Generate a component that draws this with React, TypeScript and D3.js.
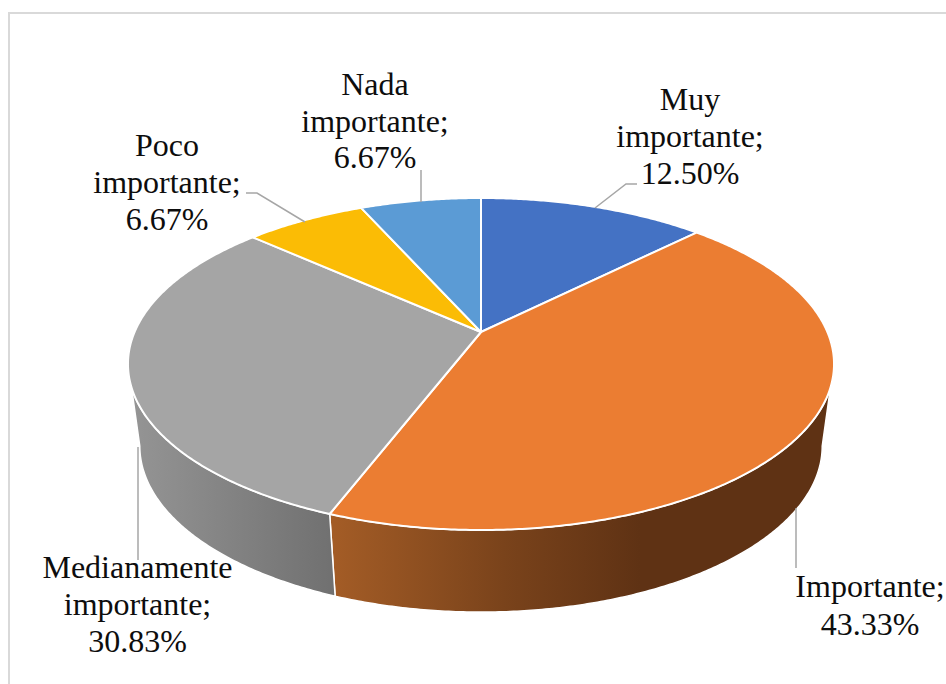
import { line, pie, range } from 'd3';

const categories = ['Muy importante', 'Importante', 'Medianamente importante', 'Poco importante', 'Nada importante'];
const shares = [12.5, 43.33, 30.83, 6.67, 6.67];
const shareLabels = ['12.50%', '43.33%', '30.83%', '6.67%', '6.67%'];
const topColors = ['#4472C4', '#EB7D32', '#A5A5A5', '#FBBC05', '#5B9BD5'];

const WIDTH = 946;
const HEIGHT = 684;
const FONT = '"Liberation Serif", "Times New Roman", serif';
const LEADER = '#A6A6A6';
const DEG = Math.PI / 180;

// the disc is seen in perspective, so both faces go through a projective map
const TOP_FACE = { cx: 481, r: 346.4, a: 332, b: -95.83, c: 0.1928 };
const BOTTOM_FACE = { cx: 481, r: 335, a: 414.5, b: -81.3, c: 0.19 };

// angles where the rim turns out of sight
const SIDE_LIMITS = { topStart: 109 * DEG, topEnd: 251 * DEG, bottomStart: 101 * DEG, bottomEnd: 259 * DEG };

const labelLayout = [
  { x: 690, baselines: [110, 147, 184], lines: ['Muy', 'importante;'], leader: [[595, 208], [626, 184], [637, 184]] },
  { x: 870, baselines: [597, 635], lines: ['Importante;'], leader: [[796, 508], [796, 568]] },
  { x: 137.5, baselines: [578, 615, 652], lines: ['Medianamente', 'importante;'], leader: [[138, 447], [138, 560]] },
  { x: 167, baselines: [156, 193, 230], lines: ['Poco', 'importante;'], leader: [[246, 193], [257, 193], [305, 222]] },
  { x: 375, baselines: [95, 132, 168], lines: ['Nada', 'importante;'], leader: [[421, 202], [421, 170]] },
];

type Face = typeof TOP_FACE;

function project(face: Face, angle: number): [number, number] {
  const u = Math.sin(angle);
  const v = Math.cos(angle);
  const w = 1 + face.c * v;
  return [face.cx + (face.r * u) / w, (face.a + face.b * v) / w];
}

function arcPoints(face: Face, from: number, to: number) {
  const steps = Math.max(2, Math.ceil(Math.abs(to - from) / (0.5 * DEG)));
  return range(steps + 1).map((i) => project(face, from + ((to - from) * i) / steps));
}

const path = line();
const slices = pie<number>().sort(null).value((d) => d)(shares);

function topSlicePath(start: number, end: number) {
  const center: [number, number] = [TOP_FACE.cx, TOP_FACE.a];
  return `${path([center, ...arcPoints(TOP_FACE, start, end)])}Z`;
}

function sidePath(start: number, end: number) {
  const topFrom = Math.max(start, SIDE_LIMITS.topStart);
  const topTo = Math.min(end, SIDE_LIMITS.topEnd);
  const bottomFrom = start <= SIDE_LIMITS.topStart ? SIDE_LIMITS.bottomStart : start;
  const bottomTo = end >= SIDE_LIMITS.topEnd ? SIDE_LIMITS.bottomEnd : end;
  if (topFrom >= topTo) return null;
  return `${path([...arcPoints(TOP_FACE, topFrom, topTo), ...arcPoints(BOTTOM_FACE, bottomTo, bottomFrom)])}Z`;
}

export default function App() {
  return (
    <svg
      width={WIDTH}
      height={HEIGHT}
      viewBox={`0 0 ${WIDTH} ${HEIGHT}`}
      style={{ position: 'absolute', left: 0, top: 0, background: '#fff' }}
    >
      <defs>
        <linearGradient id="side-1" gradientUnits="userSpaceOnUse" x1={335} x2={640} y1={0} y2={0}>
          <stop offset="0" stopColor="#A35C26" />
          <stop offset="0.55" stopColor="#7A431B" />
          <stop offset="1" stopColor="#5F3214" />
        </linearGradient>
        <linearGradient id="side-2" gradientUnits="userSpaceOnUse" x1={135} x2={335} y1={0} y2={0}>
          <stop offset="0" stopColor="#949494" />
          <stop offset="1" stopColor="#707070" />
        </linearGradient>
      </defs>

      <path d={`M8,13H${WIDTH}M9,12V${HEIGHT}`} fill="none" stroke="#D9D9D9" strokeWidth={2} />

      {slices.map((slice, i) => {
        const d = sidePath(slice.startAngle, slice.endAngle);
        return d ? (
          <path key={categories[i]} d={d} fill={`url(#side-${i})`} stroke="#fff" strokeWidth={1.5} strokeLinejoin="round" />
        ) : null;
      })}

      {slices.map((slice, i) => (
        <path
          key={categories[i]}
          d={topSlicePath(slice.startAngle, slice.endAngle)}
          fill={topColors[i]}
          stroke="#fff"
          strokeWidth={2}
          strokeLinejoin="round"
        />
      ))}

      {labelLayout.map((label, i) => (
        <path
          key={categories[i]}
          d={path(label.leader as [number, number][]) ?? ''}
          fill="none"
          stroke={LEADER}
          strokeWidth={1.5}
        />
      ))}

      {labelLayout.map((label, i) => {
        const rows = [...label.lines, shareLabels[i]];
        return (
          <text key={categories[i]} fontFamily={FONT} fontSize={32} fill="#0d0d0d" textAnchor="middle">
            {rows.map((row, j) => (
              <tspan key={row} x={label.x} y={label.baselines[j]}>
                {row}
              </tspan>
            ))}
          </text>
        );
      })}
    </svg>
  );
}
